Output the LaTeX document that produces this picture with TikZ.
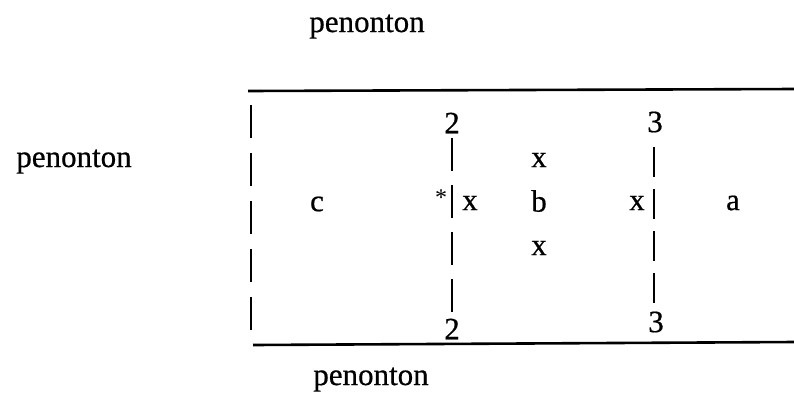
\documentclass[tikz,border=0pt]{standalone}
\usepackage{fontspec}
\setmainfont{Liberation Serif}
\begin{document}
\begin{tikzpicture}[x=1pt,y=-1pt,
  lbl/.style={inner sep=0pt,font=\fontsize{31}{36}\selectfont\addfontfeature{FakeBold=0.6}},
  word/.style={lbl,anchor=base},
  rule/.style={line width=2.6pt},
  bar/.style={line width=2.6pt}]
\useasboundingbox (0,0) rectangle (794,392);
% outer labels
\node[word] (top) at (367,32) {penonton};
\node[word] (left) at (74,167) {penonton};
\node[word] (bot) at (371,385) {penonton};
% horizontal rules
\coordinate (t1) at (248,91); \coordinate (t2) at (794,89);
\coordinate (b1) at (253,345); \coordinate (b2) at (794,342);
\draw[rule] (t1) -- (t2);
\draw[rule] (b1) -- (b2);
% left dashed boundary
\coordinate (l1) at (251,105); \coordinate (l2) at (251,333);
\draw[bar,dash pattern=on 33pt off 15pt] (l1) -- (l2);
% middle boundary (2)
\node[lbl] (m2t) at (452,123) {2};
\node[lbl] (m2b) at (452,329) {2};
\coordinate (m1) at (452,138); \coordinate (m2) at (452,312);
\draw[bar,dash pattern=on 33pt off 14pt] (m1) -- (m2);
\node[lbl,font=\fontsize{24}{28}\selectfont] (star) at (441,198) {*};
\node[lbl] (mx) at (470,203) {x};
% right boundary (3)
\node[lbl] (r3t) at (655,122) {3};
\node[lbl] (r3b) at (656,322) {3};
\coordinate (r1) at (654,147); \coordinate (r2) at (654,303);
\draw[bar,dash pattern=on 30pt off 12pt] (r1) -- (r2);
\node[lbl] (rx) at (637,203) {x};
% regions
\node[lbl] (c) at (317,204) {c};
\node[lbl] (x1) at (539,160) {x};
\node[lbl] (b) at (539,201) {b};
\node[lbl] (x2) at (539,248) {x};
\node[lbl] (a) at (733,203) {a};
\end{tikzpicture}
\end{document}
